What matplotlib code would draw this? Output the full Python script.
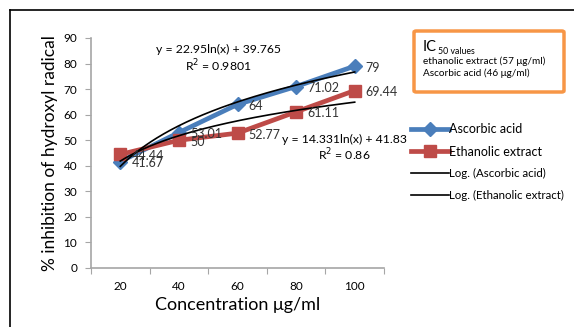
import numpy as np
import matplotlib
matplotlib.use("Agg")
import matplotlib.pyplot as plt
from matplotlib.lines import Line2D
from matplotlib.patches import FancyBboxPatch

plt.rcParams['font.family'] = ['Lato', 'DejaVu Sans']

# === Data ===
concentrations = ["20", "40", "60", "80", "100"]
ascorbic = [41.67, 53.01, 64, 71.02, 79]
ethanolic = [44.44, 50, 52.77, 61.11, 69.44]
ascorbic_fit = (22.95, 39.765)
ethanolic_fit = (14.331, 41.83)

blue = '#4A7EBB'
red = '#BE4B48'
grey = '#A6A6A6'

W, H = 574, 327
fig = plt.figure(figsize=(W / 100, H / 100), dpi=100)
ax = fig.add_axes([91 / W, 1 - 268 / H, (384 - 91) / W, (268 - 38) / H])

x = np.arange(len(concentrations)) + 0.5

ax.plot(x, ascorbic, color=blue, lw=3.4, marker='D', ms=7, zorder=3)
ax.plot(x, ethanolic, color=red, lw=3.4, marker='s', ms=8, zorder=3)

# log trend lines (Excel style, x = category index 1..n)
xs = np.linspace(1, len(concentrations), 200)
for a, b in (ascorbic_fit, ethanolic_fit):
    ax.plot(xs - 0.5, a * np.log(xs) + b, color='black', lw=1.2, zorder=4)

# data labels
for xi, v in zip(x, ascorbic):
    ax.annotate(f"{v:g}", (xi, v), xytext=(8, -1), textcoords='offset points',
                va='center', ha='left', fontsize=9, color='#333333', zorder=5)
for xi, v in zip(x, ethanolic):
    ax.annotate(f"{v:g}", (xi, v), xytext=(8, -1), textcoords='offset points',
                va='center', ha='left', fontsize=9, color='#333333', zorder=5)

# trend equations
ax.text(2.17, 85.5, "y = 22.95ln(x) + 39.765", ha='center', va='center', fontsize=8.8)
ax.text(2.17, 79.2, "R$^2$ = 0.9801", ha='center', va='center', fontsize=8.8)
ax.text(4.33, 50.3, "y = 14.331ln(x) + 41.83", ha='center', va='center', fontsize=8.8)
ax.text(4.33, 44.4, "R$^2$ = 0.86", ha='center', va='center', fontsize=8.8)

ax.set_xlim(0, 5)
ax.set_ylim(0, 90)
ax.set_yticks(range(0, 91, 10))
ax.set_xticks(range(0, 6))
ax.set_xticklabels([])
ax.set_xticks(x, minor=True)
ax.set_xticklabels(concentrations, minor=True)
ax.tick_params(axis='x', which='major', length=4, color=grey, direction='out')
ax.tick_params(axis='x', which='minor', length=0, pad=9, labelsize=8.5)
ax.tick_params(axis='y', length=4, color=grey, labelsize=8.5, pad=6)
for s in ['top', 'right']:
    ax.spines[s].set_visible(False)
for s in ['left', 'bottom']:
    ax.spines[s].set_color(grey)
    ax.spines[s].set_linewidth(1.2)
ax.set_xlabel("Concentration μg/ml", fontsize=13, labelpad=4)
ax.set_ylabel("% inhibition of hydroxyl radical", fontsize=12.5, labelpad=4)

# legend
handles = [
    Line2D([], [], color=blue, lw=3.4, marker='D', ms=7),
    Line2D([], [], color=red, lw=3.4, marker='s', ms=8),
    Line2D([], [], color='black', lw=1.2),
    Line2D([], [], color='black', lw=1.2),
]
names = ["Ascorbic acid", "Ethanolic extract", "Log. (Ascorbic acid)", "Log. (Ethanolic extract)"]
leg = fig.legend(handles, names, loc='upper left', bbox_to_anchor=(406 / W, 1 - 118 / H),
                 frameon=False, fontsize=9, handlelength=3.0, handletextpad=0.05,
                 labelspacing=0.85, borderaxespad=0)
for t in leg.get_texts()[2:]:
    t.set_fontsize(8.3)

# IC50 box
box = FancyBboxPatch((414 / W, 1 - 92 / H), (564 - 414) / W, (92 - 31) / H,
                     boxstyle='round,pad=0,rounding_size=0.004', transform=fig.transFigure,
                     facecolor='white', edgecolor='#F79646', lw=2.5)
fig.patches.append(box)
fig.text(423 / W, 1 - 47 / H, "IC", fontsize=10.5, va='center', ha='left')
fig.text(438 / W, 1 - 51 / H, "50 values", fontsize=6.3, va='center', ha='left')
fig.text(423 / W, 1 - 61 / H, "ethanolic extract (57 μg/ml)", fontsize=7.2, va='center', ha='left')
fig.text(423 / W, 1 - 73 / H, "Ascorbic acid (46 μg/ml)", fontsize=7.2, va='center', ha='left')

# outer chart frame
fig.add_artist(Line2D([10 / W, 1], [1 - 10 / H, 1 - 10 / H], color='black', lw=1.2))
fig.add_artist(Line2D([10 / W, 10 / W], [0, 1 - 10 / H], color='black', lw=1.2))

fig.savefig("out.png", dpi=100, facecolor='white')
